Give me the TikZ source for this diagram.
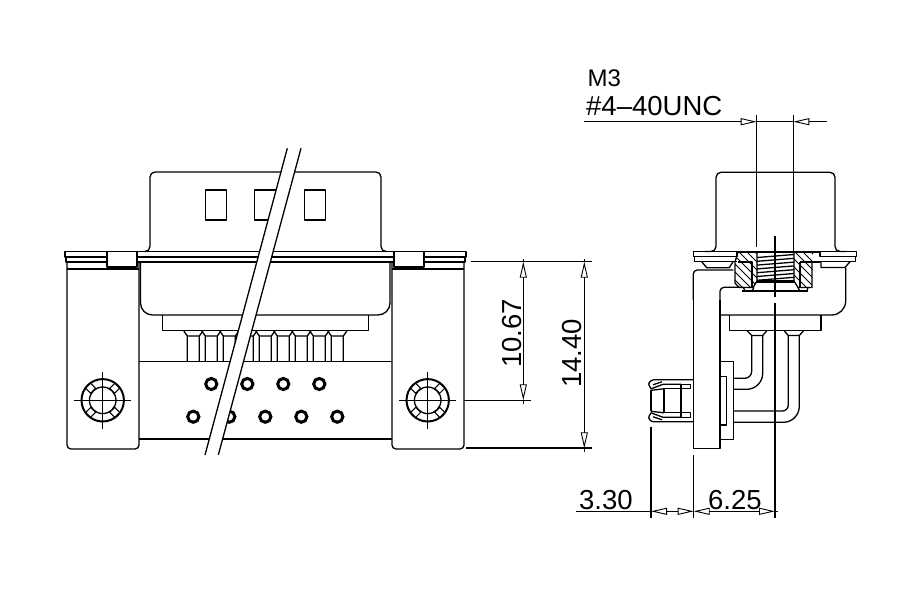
\documentclass[tikz,border=0pt]{standalone}
\usepackage{fontspec}
\setmainfont{Liberation Sans}
\usetikzlibrary{arrows.meta}
\tikzset{
	part/.style={line width=1.3pt, line join=round},
	heavy/.style={line width=2pt, line join=round},
	fine/.style={line width=1pt},
	dimline/.style={line width=1.1pt, >={Triangle[open,length=16pt,width=7pt,line width=0.9pt]}},
	dimtext/.style={font=\fontsize{27.5}{27.5}\selectfont, inner sep=0pt, anchor=base west},
}
\begin{document}
\begin{tikzpicture}[x=1pt, y=-1pt]
	\useasboundingbox (0,0) rectangle (900,600);
	% front view
	\draw[part, rounded corners=5pt] (144,251.5) -- (150,251.5) -- (150,172) -- (381,172) -- (381,251.5) -- (387,251.5);
	\foreach \x in {205.3,254.7,304.3}
		\draw[part] (\x,190) rectangle +(21.4,30);
	\draw[part] (65,251.5) rectangle (466,257);
	\draw[part] (66,257) -- (66,262) -- (465,262) -- (465,257);
	\draw[part, rounded corners=4pt] (67,262) -- (67,449) -- (139,449) -- (139,262);
	\draw[part] (67,269) -- (139,269);
	\draw[part, rounded corners=4pt] (392,262) -- (392,449) -- (464,449) -- (464,262);
	\draw[part] (392,269) -- (464,269);
	\draw[part, fill=white] (107,251.5) rectangle (137,267);
	\draw[part, fill=white] (394,251.5) rectangle (424,267);
	\draw[part, rounded corners=12pt] (140.5,262) -- (140.5,315) -- (390,315) -- (390,262);
	\draw[part] (162.7,315) -- (162.7,330.7) -- (368.3,330.7) -- (368.3,315);
	\foreach \x in {187.3,205.3,...,331.3}
		\draw[part] (\x-3.5,331) -- (\x,336) -- (\x+12,336) -- (\x+15.5,331)
			(\x,336) -- (\x,361.7) (\x+12,336) -- (\x+12,361.7);
	\draw[part] (139,361.7) -- (392,361.7);
	\draw[heavy] (139,439) -- (392,439);
	\foreach \x in {211.3,247.3,283.3,319.3}
		\draw[line width=3pt] (\x,384) circle[radius=5.6];
	\foreach \x in {193.3,229.3,265.3,301.3,337.3}
		\draw[line width=3pt] (\x,416.7) circle[radius=5.6];
	% mounting rings
	\foreach \cx in {102.7,427.7} {
		\draw[heavy] (\cx,400.3) circle[radius=21.2];
		\foreach \a in {45,135,225,315}
			\draw[fine, fill=white, shift={(\cx,400.3)}, rotate=\a] (13.5,-3.5) rectangle (20.5,3.5);
		\draw[part] (\cx,400.3) circle[radius=13.3];
		\draw[fine] (\cx-28.7,400.3) -- (\cx+28.7,400.3);
		\draw[fine] (\cx,371.6) -- (\cx,429);
	}
	% break band
	\fill[white] (287.3,148.3) -- (301,148.3) -- (218.3,455) -- (205,455) -- cycle;
	\draw[part] (287.3,148.3) -- (205,455);
	\draw[part] (301,148.3) -- (218.3,455);
	% side view
	\draw[part, rounded corners=5pt] (705,251.5) -- (716,251.5) -- (716,172.3) -- (835,172.3) -- (835,251.5) -- (846,251.5);
	\draw[part] (693.3,251.5) rectangle (737,256.7);
	\draw[part] (694.5,256.7) -- (694.5,261.7) -- (737,261.7);
	\draw[part] (820,251.5) rectangle (856.7,256.7);
	\draw[part] (820,261.7) -- (855.5,261.7) -- (855.5,256.7);
	\draw[part] (701.7,261.7) -- (706.7,267.7) -- (729.3,267.7) -- (733,261.7);
	\draw[part] (821,261.7) -- (821,267.5) -- (845,267.5) -- (850,261.7);
	\draw[part, rounded corners=4pt] (733.3,270) -- (693.3,270) -- (693.3,300);
	\draw[part] (693.3,300) -- (693.3,448.3) -- (720,448.3) -- (720,300);
	\draw[part, rounded corners=4pt] (720,300) -- (720,287.3) -- (743,287.3);
	\draw[part, rounded corners=14pt] (720,315) -- (845.7,315) -- (845.7,267.5);
	\draw[heavy] (742,290.7) -- (808,290.7);
	\draw[part] (729.3,315) -- (729.3,330.7) -- (821,330.7) -- (821,315);
	% side view pins
	\draw[part] (747.3,331) -- (751.7,335.5) -- (762.7,335.5) -- (766.7,331);
	\draw[part] (784.3,331) -- (788.3,335.5) -- (799.3,335.5) -- (803.3,331);
	\draw[part, rounded corners=7pt] (751.7,335.5) -- (751.7,378.3) -- (733.3,378.3);
	\draw[part, rounded corners=16pt] (762.7,335.5) -- (762.7,389.3) -- (733.3,389.3);
	\draw[part, rounded corners=6pt] (788.3,335.5) -- (788.3,411) -- (733.3,411);
	\draw[part, rounded corners=16pt] (799.3,335.5) -- (799.3,422.3) -- (733.3,422.3);
	\draw[part, fill=white] (720,361.7) rectangle (733.3,439.3);
	\draw[part] (720,376.7) -- (726.7,376.7) -- (726.7,425) -- (720,425);
	% jack nut section
	\begin{scope}
		\clip (738,252) -- (757,252) -- (757,281) -- (753,287.5) -- (735,287.5) -- (735,262) -- cycle
			(794,252) -- (813,252) -- (813,262) -- (812,287.5) -- (801,287.5) -- (798,281) -- (794,281) -- cycle;
		\foreach \x in {700,708,...,830}
			\draw[fine] (\x,245) -- (\x+50,295);
	\end{scope}
	\draw[part] (738,252) -- (735,262) -- (735,283) -- (739,287.5) -- (753,287.5) -- (757,281) -- (757,252);
	\draw[part] (794,252) -- (794,281) -- (798,287.5) -- (812,287.5) -- (812,262);
	\draw[part] (738,262) -- (752,262) -- (752,287);
	\draw[part] (800,262) -- (800,287);
	\draw[part] (800,262) -- (820,262);
	\foreach \y in {256,259.8,...,280}
		\draw[part] (757,\y+1.5) -- (794,\y-1.5);
	\draw[heavy] (737,252) -- (820,252);
	\draw[line width=2.4pt] (757,281.5) -- (794,281.5);
	\draw[part] (743.3,287.5) -- (745,290.7) (754,287.5) -- (752,290.7);
	\draw[part] (798,287.5) -- (799.5,290.7) (808,287.5) -- (807,290.7);
	% contact tail nut
	\foreach \s in {1,-1} {
		\begin{scope}[shift={(0,400.8)}, yscale=\s]
			\draw[part] (693,-21) -- (654,-21) .. controls (650,-21) and (648,-17) .. (649,-15.5) -- (651,-12) -- (663,-16.5) -- (681,-16.5);
			\draw[part] (653,-16) -- (662,-19);
			\draw[part] (681,-16.5) -- (690.7,-16.5) -- (690.7,-12) -- (664,-12);
			\draw[part] (651,-10.5) -- (664,-12);
		\end{scope}
	}
	\draw[part] (651,390.3) -- (651,411.3) (664,388.8) -- (664,412.8) (681,384.3) -- (681,417.3);
	% dimensions
	\draw[fine] (470.7,261.7) -- (591.7,261.7);
	\draw[heavy] (466,448.3) -- (591.7,448.3);
	\draw[fine] (464,400.3) -- (531,400.3);
	\draw[dimline, <->] (523.3,400.3) -- (523.3,261.7);
	\draw[dimline] (523.3,259) -- (523.3,261.7) (523.3,400.3) -- (523.3,404);
	\draw[dimline, <->] (584.3,448.3) -- (584.3,261.7);
	\draw[dimline] (584.3,259) -- (584.3,261.7) (584.3,448.3) -- (584.3,451.7);
	\node[dimtext, rotate=90] (len_a) at (521.7,368) {10.67};
	\node[dimtext, rotate=90] (len_b) at (581,388) {14.40};
	\draw[dimline] (756.7,115) -- (756.7,247);
	\draw[dimline] (793.3,115) -- (793.3,252);
	\draw[line width=1.4pt] (584,121.7) -- (740,121.7) (810.7,121.7) -- (826.7,121.7) (756.7,121.7) -- (793.3,121.7);
	\draw[dimline, ->] (740,121.7) -- (756.7,121.7);
	\draw[dimline, ->] (810.7,121.7) -- (793.3,121.7);
	\node[dimtext, font=\fontsize{24}{24}\selectfont] (size_m) at (587.5,86) {M3};
	\node[dimtext] (size_unc) at (586,115) {\#4–40UNC};
	\draw[dimline] (651,426.7) -- (651,518);
	\draw[dimline] (693.7,455) -- (693.7,518);
	\draw[dimline] (775,236) -- (775,297) (775,303) -- (775,518);
	\draw[dimline] (576,511.3) -- (651,511.3) (668,511.3) -- (677,511.3) (710.7,511.3) -- (758,511.3) (775,511.3) -- (778,511.3);
	\draw[dimline, ->] (668,511.3) -- (651,511.3);
	\draw[dimline, ->] (677,511.3) -- (693.7,511.3);
	\draw[dimline, ->] (710.7,511.3) -- (693.7,511.3);
	\draw[dimline, ->] (758,511.3) -- (775,511.3);
	\node[dimtext] (off_a) at (579,509) {3.30};
	\node[dimtext] (off_b) at (708,509) {6.25};
\end{tikzpicture}
\end{document}
